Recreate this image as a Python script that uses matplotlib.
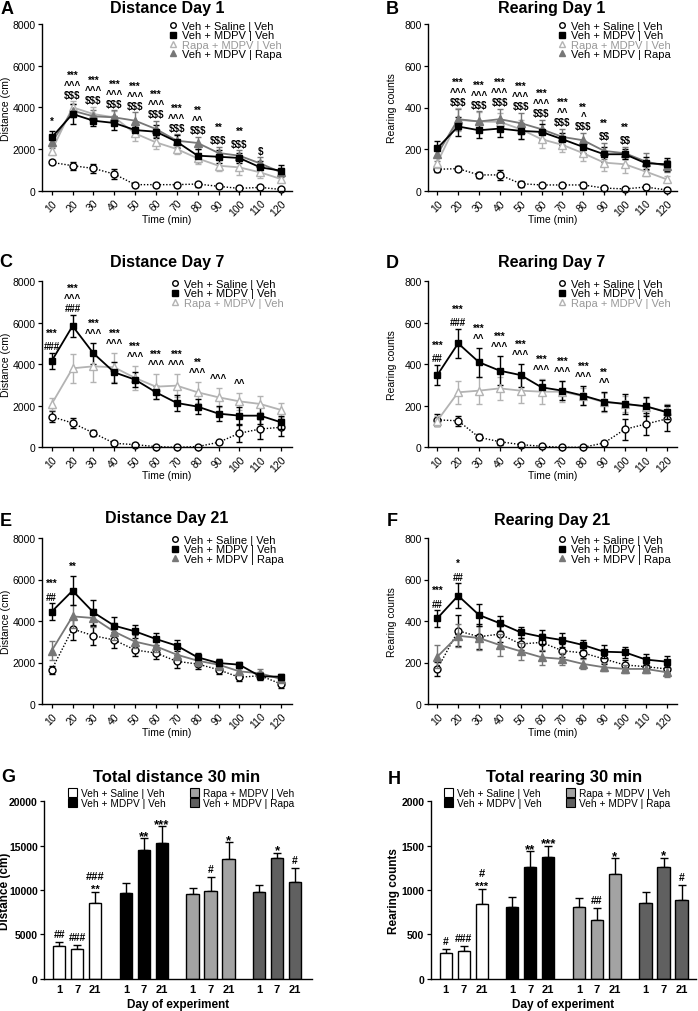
import numpy as np
import matplotlib
matplotlib.use('Agg')
import matplotlib.pyplot as plt
from matplotlib.lines import Line2D
from matplotlib.patches import Patch

plt.rcParams['font.family'] = ['Liberation Sans', 'DejaVu Sans']

# ---------------- DATA ----------------
time = [10, 20, 30, 40, 50, 60, 70, 80, 90, 100, 110, 120]
labels = ['Veh + Saline | Veh', 'Veh + MDPV | Veh', 'Rapa + MDPV | Veh', 'Veh + MDPV | Rapa']

# A: Distance Day 1
A_saline = [1360, 1200, 1070, 800, 290, 290, 290, 320, 210, 110, 160, 60]
A_saline_err = [100, 200, 200, 250, 80, 100, 100, 120, 80, 60, 80, 40]
A_mdpv = [2560, 3680, 3360, 3250, 2910, 2830, 2350, 1680, 1630, 1570, 1120, 960]
A_mdpv_err = [300, 500, 250, 350, 300, 300, 300, 300, 300, 250, 300, 250]
A_rapa_pre = [1920, 4000, 3680, 3520, 2750, 2320, 2000, 1550, 1200, 1120, 880, 560]
A_rapa_pre_err = [200, 300, 350, 300, 350, 300, 250, 250, 250, 350, 250, 150]
A_rapa_post = [2320, 3840, 3570, 3520, 3360, 2960, 2400, 2290, 1810, 1680, 1310, 880]
A_rapa_post_err = [250, 300, 300, 350, 400, 400, 300, 300, 300, 250, 300, 200]
A_annot = ['*', '***\n^^^\n$$$', '***\n^^^\n$$$', '***\n^^^\n$$$', '***\n^^^\n$$$',
           '***\n^^^\n$$$', '***\n^^^\n$$$', '**\n^^\n$$$', '**\n$$$', '**\n$$$', '$', '']

# B: Rearing Day 1
B_saline = [104, 107, 77, 77, 35, 29, 29, 29, 14, 10, 19, 5]
B_saline_err = [15, 12, 15, 25, 15, 10, 10, 15, 8, 5, 10, 5]
B_mdpv = [205, 309, 291, 299, 288, 283, 248, 211, 176, 176, 133, 128]
B_mdpv_err = [35, 45, 35, 40, 40, 40, 30, 30, 35, 25, 30, 30]
B_rapa_pre = [136, 341, 333, 331, 296, 248, 221, 181, 136, 128, 93, 56]
B_rapa_pre_err = [25, 55, 45, 45, 45, 40, 35, 35, 40, 40, 20, 15]
B_rapa_post = [176, 344, 333, 344, 325, 296, 259, 243, 192, 181, 141, 120]
B_rapa_post_err = [30, 50, 50, 50, 50, 45, 40, 35, 40, 30, 40, 30]
B_annot = ['', '***\n^^^\n$$$', '***\n^^^\n$$$', '***\n^^^\n$$$', '***\n^^^\n$$$',
           '***\n^^^\n$$$', '***\n^^\n$$$', '**\n^\n$$$', '**\n$$', '**\n$$', '', '']

# C: Distance Day 7
C_saline = [1477, 1172, 690, 193, 128, 32, 0, 32, 241, 675, 883, 963]
C_saline_err = [250, 250, 150, 100, 60, 30, 20, 30, 80, 400, 500, 400]
C_mdpv = [4160, 5846, 4530, 3614, 3260, 2650, 2136, 1960, 1622, 1525, 1525, 1205]
C_mdpv_err = [400, 550, 500, 500, 350, 300, 400, 350, 350, 400, 400, 300]
C_rapa_pre = [2088, 3807, 3903, 3855, 3340, 2923, 2971, 2650, 2409, 2216, 2088, 1800]
C_rapa_pre_err = [300, 700, 750, 700, 600, 600, 550, 500, 450, 400, 400, 350]
C_annot = ['***\n###', '***\n^^^\n###', '***\n^^^', '***\n^^^', '***\n^^^', '***\n^^^',
           '***\n^^^', '**\n^^^', '^^^', '^^', '', '']

# D: Rearing Day 7
D_saline = [132, 128, 48, 27, 13, 5, 0, 0, 21, 87, 112, 137]
D_saline_err = [30, 25, 15, 15, 10, 5, 3, 3, 10, 50, 55, 60]
D_mdpv = [348, 501, 410, 369, 348, 289, 273, 249, 220, 209, 198, 169]
D_mdpv_err = [50, 70, 70, 70, 55, 35, 45, 45, 45, 50, 45, 35]
D_rapa_pre = [128, 265, 273, 284, 273, 268, 268, 246, 217, 209, 196, 173]
D_rapa_pre_err = [25, 55, 65, 55, 60, 60, 50, 40, 45, 40, 40, 35]
D_annot = ['***\n##', '***\n###', '***\n^^', '***\n^^^', '***\n^^^', '***\n^^^',
           '***\n^^^', '***\n^^^', '**\n^^', '', '', '']

# E: Distance Day 21
E_saline = [1654, 3614, 3293, 3084, 2602, 2457, 2056, 1927, 1654, 1285, 1365, 964]
E_saline_err = [200, 550, 450, 400, 300, 300, 300, 250, 200, 200, 200, 200]
E_mdpv = [4449, 5461, 4417, 3774, 3501, 3132, 2811, 2249, 1975, 1895, 1333, 1317]
E_mdpv_err = [400, 700, 600, 400, 300, 300, 250, 200, 200, 150, 150, 150]
E_rapa_post = [2570, 4224, 4143, 3485, 3003, 2778, 2377, 2088, 1895, 1574, 1478, 1204]
E_rapa_post_err = [450, 550, 450, 400, 300, 250, 250, 250, 250, 200, 200, 150]
E_annot = ['***\n##', '**', '', '', '', '', '', '', '', '', '', '']

# F: Rearing Day 21
F_saline = [169, 353, 324, 337, 289, 297, 257, 246, 217, 188, 180, 169]
F_saline_err = [35, 75, 60, 40, 30, 40, 30, 25, 25, 25, 20, 20]
F_mdpv = [413, 522, 429, 389, 345, 324, 308, 284, 252, 249, 214, 204]
F_mdpv_err = [40, 60, 55, 35, 25, 35, 35, 25, 30, 25, 25, 25]
F_rapa_post = [228, 329, 318, 284, 254, 225, 217, 193, 177, 169, 169, 153]
F_rapa_post_err = [55, 55, 60, 55, 40, 35, 30, 25, 20, 20, 20, 25]
F_annot = ['***\n##', '*\n##', '', '', '', '', '', '', '', '', '', '']

# G: Total distance 30 min
days = ['1', '7', '21']
G_saline = [3647, 3309, 8573]
G_saline_err = [450, 530, 1200]
G_mdpv = [9700, 14514, 15266]
G_mdpv_err = [1050, 1320, 1920]
G_rapa_pre = [9513, 9851, 13461]
G_rapa_pre_err = [680, 1650, 1920]
G_rapa_post = [9738, 13611, 10942]
G_rapa_post_err = [870, 600, 1500]
G_annot = [['##', '###', '###\n**'], ['', '**', '***'], ['', '#', '*'], ['', '*', '#']]

# H: Total rearing 30 min
H_saline = [290, 308, 842]
H_saline_err = [45, 57, 173]
H_mdpv = [805, 1263, 1369]
H_mdpv_err = [116, 173, 131]
H_rapa_pre = [812, 666, 1177]
H_rapa_pre_err = [94, 135, 180]
H_rapa_post = [854, 1256, 884]
H_rapa_post_err = [127, 109, 173]
H_annot = [['#', '###', '#\n***'], ['', '**', '***'], ['', '##', '*'], ['', '*', '#']]

# ---------------- STYLE ----------------
W, H = 698, 1012
fig = plt.figure(figsize=(W / 100, H / 100), dpi=100)
PX2PT = 0.72

LIGHT = '#b3b3b3'
DARK = '#777777'
STY = {
    'saline': dict(marker='o', ms=5.0, mfc='white', mec='black', mew=1.0, color='black', ls=(0, (1, 1.3)), lw=1.0),
    'mdpv': dict(marker='s', ms=4.8, mfc='black', mec='black', color='black', ls='-', lw=1.3),
    'rapa_pre': dict(marker='^', ms=5.2, mfc='white', mec=LIGHT, mew=1.0, color=LIGHT, ls='-', lw=1.3),
    'rapa_post': dict(marker='^', ms=5.2, mfc=DARK, mec=DARK, color=DARK, ls='-', lw=1.3),
}
LAB = {'saline': labels[0], 'mdpv': labels[1], 'rapa_pre': labels[2], 'rapa_post': labels[3]}
BARCOL = {'saline': 'white', 'mdpv': 'black', 'rapa_pre': '#a3a3a3', 'rapa_post': '#606060'}


def add_ax(l, t, r, b):
    return fig.add_axes([l / W, 1 - b / H, (r - l) / W, (b - t) / H])


def ftext(x, y, s, **kw):
    fig.text(x / W, 1 - y / H, s, **kw)


def style_axes(ax):
    for s in ['top', 'right']:
        ax.spines[s].set_visible(False)
    for s in ['left', 'bottom']:
        ax.spines[s].set_linewidth(1.0)
    ax.tick_params(direction='out', length=3, width=0.9, labelsize=7.5, pad=1.5)


def line_annot(ax, x, y, s):
    lines = s.split('\n')
    ls = 1.0
    if len(lines) == 2 and lines[0][0] == '*' and lines[1][0] in '#$':
        ls = 1.45
    off = 1.5 if lines[-1][0] in '#$' else 5
    ax.annotate(s, (x, y), xytext=(0, off * PX2PT), textcoords='offset points',
                ha='center', va='bottom', fontsize=7, fontweight='bold', linespacing=ls,
                parse_math=False, annotation_clip=False)


def bar_annot(ax, x, y, s):
    lines = s.split('\n')
    if len(lines) == 1:
        if s[0] == '*':
            ax.annotate(s, (x, y), xytext=(0, -3.5 * PX2PT), textcoords='offset points',
                        ha='center', va='bottom', fontsize=9.5, fontweight='bold',
                        parse_math=False, annotation_clip=False)
        else:
            ax.annotate(s, (x, y), xytext=(0, 3 * PX2PT), textcoords='offset points',
                        ha='center', va='bottom', fontsize=7.5, fontweight='bold',
                        parse_math=False, annotation_clip=False)
    else:
        ax.annotate(s, (x, y), xytext=(0, -2 * PX2PT), textcoords='offset points',
                    ha='center', va='bottom', fontsize=8, fontweight='bold', linespacing=1.35,
                    parse_math=False, annotation_clip=False)


def line_panel(rect, x10, ylim, ystep, series, annot, ylabel, title, tpos, letter, lpos, legpos):
    l, t, r, b = rect
    ax = add_ax(l, t, r, b)
    style_axes(ax)
    px_per10 = 20.85
    ax.set_xlim(10 - (x10 - l) / px_per10 * 10, 10 + (r - x10) / px_per10 * 10)
    ax.set_ylim(0, ylim)
    ax.set_yticks(np.arange(0, ylim + 1, ystep))
    ax.set_xticks(time)
    ax.set_xticklabels([str(v) for v in time], rotation=45, ha='right', rotation_mode='anchor')
    ax.tick_params(axis='x', pad=2)
    for key, vals, errs in series:
        st = STY[key]
        ax.errorbar(time, vals, yerr=errs, capsize=2.5, capthick=1.0, elinewidth=1.0,
                    ecolor=st['color'], **st, clip_on=False, zorder=3 if key != 'saline' else 2)
    for i, s in enumerate(annot):
        if s:
            top = max(v[i] + e[i] for _, v, e in series)
            line_annot(ax, time[i], top, s)
    ax.set_ylabel(ylabel, fontsize=7.5)
    ax.yaxis.set_label_coords(-31 / (r - l), 0.5)
    ax.set_xlabel('Time (min)', fontsize=7.5)
    ax.xaxis.set_label_coords(0.5, -23 / (b - t))
    handles = [Line2D([], [], ls='none', marker=STY[k]['marker'], ms=4.0,
                      mfc=STY[k]['mfc'], mec=STY[k]['mec']) for k, _, _ in series]
    keyorder = ['saline', 'mdpv', 'rapa_pre', 'rapa_post']
    order = sorted(range(len(series)), key=lambda j: keyorder.index(series[j][0]))
    lg = ax.legend([handles[j] for j in order], [LAB[series[j][0]] for j in order], loc='upper left',
                   bbox_to_anchor=(legpos[0] / W, 1 - legpos[1] / H), bbox_transform=fig.transFigure,
                   frameon=False, fontsize=8, handlelength=0.8, handletextpad=0.4,
                   labelspacing=-0.05, borderpad=0, borderaxespad=0)
    for txt, j in zip(lg.get_texts(), order):
        if series[j][0] == 'rapa_pre':
            txt.set_color('#999999')
    ftext(tpos[0], tpos[1], title, ha='center', va='center', fontsize=11.5, fontweight='bold')
    ftext(lpos[0], lpos[1], letter, ha='center', va='center', fontsize=13, fontweight='bold')
    return ax


def bar_panel(rect, x0, ylim, ystep, groups, annots, ylabel, ylab_off, title, tpos, letter, lpos, legpos):
    l, t, r, b = rect
    ax = add_ax(l, t, r, b)
    style_axes(ax)
    unit = 18.0
    ax.set_xlim(-(x0 - l) / unit, (r - x0) / unit)
    ax.set_ylim(0, ylim)
    ax.set_yticks(np.arange(0, ylim + 1, ystep))
    allx = []
    for g, (key, vals, errs) in enumerate(groups):
        xs = g * 3.7 + np.arange(3)
        allx.extend(xs)
        ax.bar(xs, vals, width=0.68, color=BARCOL[key], edgecolor='black', lw=1.0, zorder=2)
        ax.errorbar(xs, vals, yerr=[np.zeros(3), errs], fmt='none', ecolor='black',
                    elinewidth=1.0, capsize=3, capthick=1.0, zorder=1)
        for x, v, e, s in zip(xs, vals, errs, annots[g]):
            if s:
                bar_annot(ax, x, v + e, s)
    ax.set_xticks(allx)
    ax.set_xticklabels(days * 4, fontweight='bold', fontsize=8)
    ax.tick_params(axis='x', length=0, pad=4)
    for lab in ax.get_yticklabels():
        lab.set_fontweight('bold')
    ax.set_ylabel(ylabel, fontsize=8.5, fontweight='bold')
    ax.yaxis.set_label_coords(-ylab_off / (r - l), 0.5)
    ax.set_xlabel('Day of experiment', fontsize=8.5, fontweight='bold')
    ax.xaxis.set_label_coords(0.5, -19 / (b - t))
    handles = [Patch(facecolor=BARCOL[k], edgecolor='black', lw=0.8) for k, _, _ in groups]
    ax.legend(handles, [LAB[k] for k, _, _ in groups], loc='upper left', ncol=2,
              bbox_to_anchor=(legpos[0] / W, 1 - legpos[1] / H), bbox_transform=fig.transFigure,
              frameon=False, fontsize=7.3, handlelength=0.9, handleheight=0.9, handletextpad=0.4,
              labelspacing=0.0, columnspacing=2.4, borderpad=0, borderaxespad=0)
    ftext(tpos[0], tpos[1], title, ha='center', va='center', fontsize=12, fontweight='bold')
    ftext(lpos[0], lpos[1], letter, ha='center', va='center', fontsize=13, fontweight='bold')
    return ax


# ---------------- PANELS ----------------
line_panel((41.7, 25, 292, 191.7), 51.7, 8000, 2000,
           [('saline', A_saline, A_saline_err), ('rapa_pre', A_rapa_pre, A_rapa_pre_err),
            ('rapa_post', A_rapa_post, A_rapa_post_err), ('mdpv', A_mdpv, A_mdpv_err)],
           A_annot, 'Distance (cm)', 'Distance Day 1', (167, 8), 'A', (7, 9), (169, 22))
line_panel((428, 25, 677, 192), 437.3, 800, 200,
           [('saline', B_saline, B_saline_err), ('rapa_pre', B_rapa_pre, B_rapa_pre_err),
            ('rapa_post', B_rapa_post, B_rapa_post_err), ('mdpv', B_mdpv, B_mdpv_err)],
           B_annot, 'Rearing counts', 'Rearing Day 1', (552, 8), 'B', (392, 10), (558, 22))
line_panel((41.7, 282.3, 292, 448.3), 51.7, 8000, 2000,
           [('saline', C_saline, C_saline_err), ('rapa_pre', C_rapa_pre, C_rapa_pre_err),
            ('mdpv', C_mdpv, C_mdpv_err)],
           C_annot, 'Distance (cm)', 'Distance Day 7', (167, 263), 'C', (6, 263), (171, 280))
line_panel((428, 282.3, 677, 448.3), 437.3, 800, 200,
           [('saline', D_saline, D_saline_err), ('rapa_pre', D_rapa_pre, D_rapa_pre_err),
            ('mdpv', D_mdpv, D_mdpv_err)],
           D_annot, 'Rearing counts', 'Rearing Day 7', (552, 263), 'D', (392, 264), (558, 280))
line_panel((41.7, 539, 292, 705), 51.7, 8000, 2000,
           [('saline', E_saline, E_saline_err), ('rapa_post', E_rapa_post, E_rapa_post_err),
            ('mdpv', E_mdpv, E_mdpv_err)],
           E_annot, 'Distance (cm)', 'Distance Day 21', (167, 519), 'E', (6, 521), (171, 536))
line_panel((428, 539, 677, 705), 437.3, 800, 200,
           [('saline', F_saline, F_saline_err), ('rapa_post', F_rapa_post, F_rapa_post_err),
            ('mdpv', F_mdpv, F_mdpv_err)],
           F_annot, 'Rearing counts', 'Rearing Day 21', (552, 520), 'F', (392, 522), (558, 536))

bar_panel((44, 802.3, 311.7, 979.7), 59.3, 20000, 5000,
          [('saline', G_saline, G_saline_err), ('mdpv', G_mdpv, G_mdpv_err),
           ('rapa_pre', G_rapa_pre, G_rapa_pre_err), ('rapa_post', G_rapa_post, G_rapa_post_err)],
          G_annot, 'Distance (cm)', 32.5, 'Total distance 30 min', (177, 778), 'G', (8, 778), (68, 789))
bar_panel((430.7, 802.3, 696, 979.7), 445.7, 2000, 500,
          [('saline', H_saline, H_saline_err), ('mdpv', H_mdpv, H_mdpv_err),
           ('rapa_pre', H_rapa_pre, H_rapa_pre_err), ('rapa_post', H_rapa_post, H_rapa_post_err)],
          H_annot, 'Rearing counts', 31, 'Total rearing 30 min', (564, 778), 'H', (394, 780), (444, 789))

fig.savefig('out.png', dpi=100)
